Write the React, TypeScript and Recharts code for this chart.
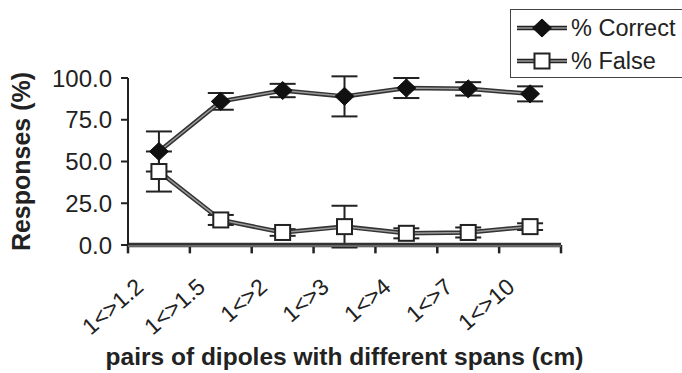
import React from "react";
import { LineChart, Line, XAxis, YAxis, ErrorBar, Legend, ReferenceLine } from "recharts";

const spans = ["1<>1.2", "1<>1.5", "1<>2", "1<>3", "1<>4", "1<>7", "1<>10"];
const correctPct = [56, 86, 92.5, 89, 94, 93.5, 90.5];
const correctErr = [12, 5, 4, 12, 6, 4, 4.5];
const falsePct = [44, 15, 7.5, 11, 7, 7.5, 11];
const falseErr = [12, 3, 2, 12.5, 3, 3, 2];
const yTicks = [0, 25, 50, 75, 100];
const edgeTicks = [0, 1, 2, 3, 4, 5, 6, 7];

const data = spans.map((span, i) => ({
  span,
  pos: i + 0.5,
  correct: correctPct[i],
  correctErr: correctErr[i],
  false: falsePct[i],
  falseErr: falseErr[i],
}));

const FONT = "'Liberation Sans', Arial, sans-serif";
const DARK = "#222";
const MID = "#9a9a9a";
const TICK_DEPTH = -5; // tick marks hang below 0, in y units

const Diamond = ({ cx, cy }: any) => (
  <path d={`M${cx - 9.5},${cy} L${cx},${cy - 9} L${cx + 9.5},${cy} L${cx},${cy + 9} Z`} fill="#111" stroke="#111" strokeWidth={1} />
);

const Square = ({ cx, cy }: any) => (
  <rect x={cx - 7.5} y={cy - 7.5} width={15} height={15} fill="#fff" stroke={DARK} strokeWidth={2} />
);

const SpanTick = ({ x, y, payload }: any) => (
  <text
    x={0}
    y={0}
    transform={`translate(${x - 14},${y + 35}) rotate(-41)`}
    textAnchor="end"
    fontSize={23}
    fontFamily={FONT}
    fill={DARK}
  >
    {payload.value}
  </text>
);

const LegendBox = () => (
  <div
    style={{
      border: "1.5px solid #444",
      borderRight: "none",
      background: "#fff",
      width: 172,
      height: 69,
      boxSizing: "border-box",
      paddingTop: 1,
      fontFamily: FONT,
      fontSize: 23.5,
      color: DARK,
    }}
  >
    {[
      { name: "% Correct", shape: "d" },
      { name: "% False", shape: "s" },
    ].map((e) => (
      <div key={e.name} style={{ display: "flex", alignItems: "center", height: 33 }}>
        <svg width={54} height={24} style={{ marginLeft: 4 }}>
          <line x1={2} y1={12} x2={52} y2={12} stroke={DARK} strokeWidth={4.5} />
          <line x1={2} y1={12} x2={52} y2={12} stroke={MID} strokeWidth={1.5} />
          {e.shape === "d" ? <Diamond cx={27} cy={12} /> : <Square cx={27} cy={12} />}
        </svg>
        <span style={{ marginLeft: 2, lineHeight: "24px" }}>{e.name}</span>
      </div>
    ))}
  </div>
);

export default function App() {
  return (
    <div style={{ position: "absolute", left: 0, top: 0, background: "#fff" }}>
      <LineChart width={682} height={373} data={data} margin={{ top: 9, right: 121, left: 0, bottom: 0 }}>
        <XAxis
          xAxisId="a"
          dataKey="pos"
          type="number"
          domain={[0, 7]}
          allowDataOverflow
          height={1}
          tick={false}
          tickLine={false}
          axisLine={{ stroke: "#333", strokeWidth: 4.5 }}
        />
        <XAxis
          xAxisId="b"
          dataKey="span"
          scale="band"
          height={127}
          interval={0}
          tick={<SpanTick />}
          tickLine={false}
          axisLine={{ stroke: MID, strokeWidth: 1.2 }}
          label={{
            content: ({ viewBox }: any) => (
              <text
                x={viewBox.x + viewBox.width / 2}
                y={viewBox.y + 119}
                textAnchor="middle"
                fontSize={24.5}
                fontWeight="bold"
                fontFamily={FONT}
                fill={DARK}
              >
                pairs of dipoles with different spans (cm)
              </text>
            ),
          }}
        />
        <YAxis
          width={128}
          domain={[0, 100]}
          ticks={yTicks}
          allowDataOverflow
          tickFormatter={(v: number) => v.toFixed(1)}
          tickSize={7}
          tickMargin={9}
          tick={{ fontSize: 24, fontFamily: FONT, fill: DARK }}
          axisLine={{ stroke: DARK, strokeWidth: 2 }}
          tickLine={{ stroke: DARK, strokeWidth: 2 }}
          label={{
            content: ({ viewBox }: any) => {
              const cx = 21;
              const cy = viewBox.y + viewBox.height / 2;
              return (
                <text
                  x={cx}
                  y={cy}
                  transform={`rotate(-90, ${cx}, ${cy})`}
                  textAnchor="middle"
                  dominantBaseline="central"
                  fontSize={25}
                  fontWeight="bold"
                  fontFamily={FONT}
                  fill={DARK}
                >
                  Responses (%)
                </text>
              );
            },
          }}
        />
        <Legend
          verticalAlign="top"
          align="right"
          content={<LegendBox />}
          wrapperStyle={{ position: "absolute", left: 510, top: 9, width: 172 }}
        />
        {edgeTicks.map((e) => (
          <ReferenceLine
            key={e}
            xAxisId="a"
            segment={[{ x: e, y: 0 }, { x: e, y: TICK_DEPTH }]}
            ifOverflow="visible"
            stroke={DARK}
            strokeWidth={2.5}
          />
        ))}
        <Line xAxisId="a" dataKey="correct" stroke="#333" strokeWidth={4.5} dot={false} legendType="none" isAnimationActive={false}>
          <ErrorBar dataKey="correctErr" width={13} stroke={DARK} strokeWidth={2} />
        </Line>
        <Line xAxisId="b" dataKey="correct" name="% Correct" stroke={MID} strokeWidth={1.5} dot={<Diamond />} activeDot={false} isAnimationActive={false} />
        <Line xAxisId="a" dataKey="false" stroke="#333" strokeWidth={4.5} dot={false} legendType="none" isAnimationActive={false}>
          <ErrorBar dataKey="falseErr" width={13} stroke={DARK} strokeWidth={2} />
        </Line>
        <Line xAxisId="b" dataKey="false" name="% False" stroke={MID} strokeWidth={1.5} dot={<Square />} activeDot={false} isAnimationActive={false} />
      </LineChart>
    </div>
  );
}
